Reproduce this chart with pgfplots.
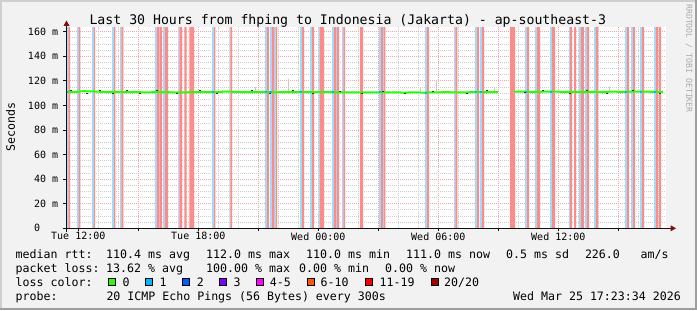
\documentclass[border=0pt]{standalone}
\usepackage{fontspec}
\setmainfont{DejaVu Sans Mono}
\setmonofont{DejaVu Sans Mono}
\usepackage{pgfplots}
\usepackage{pgfplotstable}
\pgfplotsset{compat=1.18}
\usetikzlibrary{arrows.meta}

\definecolor{bgc}{RGB}{242,242,242}
\definecolor{shadea}{RGB}{207,207,207}
\definecolor{shadeb}{RGB}{158,158,158}
\definecolor{mgridc}{RGB}{240,165,165}
\definecolor{gridc}{RGB}{205,205,205}
\definecolor{lossblue}{RGB}{160,220,245}
\definecolor{lossred}{RGB}{255,138,138}
\definecolor{medgreen}{RGB}{38,255,0}
\definecolor{lc1}{RGB}{0,184,255}
\definecolor{lc2}{RGB}{0,89,255}
\definecolor{lc3}{RGB}{126,0,255}
\definecolor{lc45}{RGB}{255,0,255}
\definecolor{lc610}{RGB}{255,85,0}
\definecolor{lc1119}{RGB}{255,0,0}
\definecolor{lc20}{RGB}{161,0,0}
\definecolor{arrowc}{RGB}{128,16,16}
\definecolor{axisc}{RGB}{16,16,16}
\definecolor{smoke}{RGB}{200,200,200}
\definecolor{darksmoke}{RGB}{45,45,45}
\definecolor{wmark}{RGB}{170,170,170}

\newcommand\tickfont{\fontsize{10bp}{12bp}\selectfont}
\newcommand\lgfont{\fontsize{11.6bp}{13bp}\selectfont}
\newcommand\titlefont{\fontsize{13.2bp}{15bp}\selectfont}

% loss bars: start (height 170) / end (height 0), hours since Tue 00:00
\pgfplotstableread{
x y
11.385 170
11.50 0
11.935 170
12.025 0
12.685 170
12.775 0
13.685 170
13.785 0
14.085 170
14.15 0
15.835 170
15.935 0
16.235 170
16.335 0
17.00 170
17.05 0
18.685 170
18.785 0
19.55 170
19.60 0
21.335 170
21.435 0
21.585 170
21.685 0
21.785 170
21.86 0
23.085 170
23.185 0
23.585 170
23.685 0
24.01 170
24.085 0
24.685 170
24.785 0
24.885 170
24.935 0
25.185 170
25.25 0
27.035 170
27.135 0
27.235 170
27.285 0
29.335 170
29.435 0
30.785 170
30.85 0
31.835 170
31.935 0
32.085 170
32.185 0
34.335 170
34.435 0
34.835 170
34.935 0
35.585 170
35.685 0
36.535 170
36.585 0
37.035 170
37.135 0
37.335 170
37.435 0
37.785 170
37.885 0
39.335 170
39.435 0
39.635 170
39.735 0
40.085 170
40.185 0
40.785 170
40.885 0
}\bluebars

\pgfplotstableread{
x y
11.50 170
11.585 0
12.025 170
12.10 0
12.775 170
12.835 0
13.785 170
13.85 0
14.15 170
14.25 0
15.935 170
16.035 0
16.06 170
16.185 0
16.335 170
16.485 0
17.05 170
17.185 0
17.30 170
17.42 0
17.55 170
17.785 0
18.785 170
18.85 0
19.60 170
19.685 0
21.435 170
21.535 0
21.685 170
21.785 0
21.86 170
21.935 0
23.185 170
23.285 0
23.685 170
23.785 0
24.085 170
24.285 0
24.785 170
24.885 0
24.935 170
25.035 0
25.25 170
25.335 0
26.085 170
26.235 0
27.135 170
27.235 0
27.285 170
27.35 0
29.435 170
29.535 0
30.85 170
30.95 0
31.935 170
32.035 0
32.185 170
32.285 0
33.585 170
33.835 0
34.435 170
34.535 0
34.935 170
35.085 0
35.685 170
35.835 0
36.585 170
36.685 0
36.785 170
36.885 0
37.135 170
37.285 0
37.435 170
37.535 0
37.885 170
37.985 0
39.435 170
39.535 0
39.735 170
39.835 0
40.185 170
40.285 0
40.885 170
40.985 0
41.035 170
41.135 0
}\redbars

% median rtt (ms)
\pgfplotstableread{
x y
11.435 111.2
11.9 111.0
12.2 111.6
12.6 111.5
13.0 111.2
13.4 110.9
13.8 111.0
14.3 110.8
14.8 111.0
15.3 110.6
15.8 110.8
16.3 110.9
16.8 110.6
17.3 110.7
17.8 110.8
18.3 111.0
18.8 110.7
19.3 111.3
19.8 111.1
20.3 110.8
20.8 110.9
21.3 111.0
21.8 110.7
22.3 110.8
22.8 110.9
23.3 111.0
23.8 110.8
24.3 110.9
24.8 110.7
25.3 110.6
25.8 110.6
26.3 110.6
26.8 110.7
27.3 110.6
27.8 110.6
28.3 110.5
28.8 110.6
29.3 110.5
29.8 110.6
30.3 110.8
30.8 110.7
31.3 110.6
31.8 110.9
32.3 110.8
32.8 110.8
32.985 110.8
nan nan
33.785 111.2
34.3 111.3
34.8 111.0
35.3 111.2
35.8 111.3
36.3 111.0
36.8 111.1
37.3 110.9
37.8 111.0
38.3 111.1
38.8 111.2
39.3 111.0
39.8 111.3
40.3 111.2
40.8 111.1
41.235 111.0
}\median

% median segments with 1 lost ping
\pgfplotstableread{
x y
11.44 111.2
11.50 111.2
nan nan
18.685 110.8
18.785 110.8
nan nan
21.335 110.9
21.435 110.9
nan nan
21.585 110.8
21.685 110.8
nan nan
23.085 111.0
23.185 111.0
nan nan
24.685 110.8
24.785 110.8
nan nan
27.035 110.6
27.135 110.6
nan nan
29.335 110.5
29.435 110.5
nan nan
31.835 110.9
31.935 110.9
nan nan
32.085 110.8
32.185 110.8
nan nan
34.335 111.3
34.435 111.3
nan nan
35.585 111.2
35.685 111.2
nan nan
39.335 111.0
39.435 111.0
nan nan
40.085 111.2
40.185 111.2
nan nan
40.785 111.1
40.885 111.1
}\lossone

% smoke spikes
\pgfplotstableread{
x y
20.835 111.5
20.835 115
nan nan
22.5 111.5
22.5 121.5
nan nan
29.085 111.5
29.085 115
nan nan
29.885 111.5
29.885 121
nan nan
32.785 111.5
32.785 115
nan nan
38.535 111.5
38.535 115
}\smokedata

% dark smoke specks at the median
\pgfplotstableread{
x y
11.57 112.0
11.67 112.0
nan nan
12.37 109.8
12.47 109.8
nan nan
13.035 112.2
13.135 112.2
nan nan
13.685 109.8
13.785 109.8
nan nan
14.37 111.8
14.47 111.8
nan nan
15.035 109.7
15.135 109.7
nan nan
15.87 111.8
15.97 111.8
nan nan
16.87 109.6
16.97 109.6
nan nan
18.035 111.9
18.135 111.9
nan nan
18.87 109.7
18.97 109.7
nan nan
20.62 111.8
20.72 111.8
nan nan
21.535 109.8
21.635 109.8
nan nan
22.70 111.8
22.80 111.8
nan nan
23.70 109.8
23.80 109.8
nan nan
25.035 111.6
25.135 111.6
nan nan
26.12 109.6
26.22 109.6
nan nan
27.20 111.6
27.30 111.6
nan nan
28.285 109.5
28.385 109.5
nan nan
29.70 111.6
29.80 111.6
nan nan
31.37 109.6
31.47 109.6
nan nan
32.37 111.8
32.47 111.8
nan nan
34.285 110.2
34.385 110.2
nan nan
35.20 112.2
35.30 112.2
nan nan
36.535 110.0
36.635 110.0
nan nan
37.37 112.0
37.47 112.0
nan nan
38.37 110.1
38.47 110.1
nan nan
39.70 112.2
39.80 112.2
nan nan
41.035 110.0
41.135 110.0
}\darkspecks

\begin{document}
\begin{tikzpicture}
% background and shaded frame
\begin{scope}[shift={(0,310bp)}, x=1bp, y=-1bp]
\fill[bgc] (0,0) rectangle (697,310);
\fill[shadea] (0,0) rectangle (697,2);
\fill[shadea] (0,0) rectangle (2,310);
\fill[shadeb] (0,308) rectangle (697,310);
\fill[shadeb] (695,0) rectangle (697,310);
\end{scope}

\begin{axis}[
  at={(66bp,81.7bp)}, anchor=south west,
  scale only axis, width=600bp, height=201bp,
  xmin=11.385, xmax=41.385, ymin=0, ymax=163.6,
  axis line style={draw=none},
  axis background/.style={fill=white},
  xtick={12,18,24,30,36},
  xticklabels={Tue 12:00,Tue 18:00,Wed 00:00,Wed 06:00,Wed 12:00},
  extra x ticks={15,21,27,33,39},
  extra x tick labels={},
  extra x tick style={grid=major},
  minor xtick={13,14,16,17,19,20,22,23,25,26,28,29,31,32,34,35,37,38,40,41},
  ytick={0,20,40,60,80,100,120,140,160},
  yticklabels={0\hphantom{000},20 m,40 m,60 m,80 m,100 m,120 m,140 m,160 m},
  minor ytick={5,10,15,25,30,35,45,50,55,65,70,75,85,90,95,105,110,115,125,130,135,145,150,155},
  grid=both,
  major grid style={color=mgridc, line width=1bp, dash pattern=on 1bp off 1bp},
  minor grid style={color=gridc, line width=1bp, dash pattern=on 1bp off 1bp},
  major tick length=0pt, minor tick length=0pt,
  tick style={draw=none},
  xticklabel style={font=\tickfont, inner sep=0pt, yshift=-4bp},
  yticklabel style={font=\tickfont, inner sep=0pt, xshift=-7.7bp},
  unbounded coords=jump,
]
\addplot[const plot, fill=lossblue, draw=none] table {\bluebars} \closedcycle;
\addplot[const plot, fill=lossred, draw=none] table {\redbars} \closedcycle;
\addplot[smoke, line width=1bp] table {\smokedata};
\addplot[medgreen, line width=2bp] table {\median};
\addplot[lc1, line width=2bp] table {\lossone};
\addplot[darksmoke, line width=1bp] table {\darkspecks};
\end{axis}

\begin{scope}[shift={(0,310bp)}, x=1bp, y=-1bp]
% axes
\draw[axisc, line width=1bp] (62.5,228.3) -- (671,228.3);
\draw[axisc, line width=1bp] (66.5,232) -- (66.5,25);
\fill[arrowc] (66.5,20.5) -- (63.5,25.8) -- (69.5,25.8) -- cycle;
\fill[arrowc] (676,228.3) -- (670.7,225.3) -- (670.7,231.3) -- cycle;
\foreach \xx in {78.3,138.3,198.3,258.3,318.3,378.3,438.3,498.3,558.3,618.3}
  \draw[axisc, line width=1bp] (\xx,228.3) -- (\xx,231.3);
\foreach \yy in {31.7,56.3,80.9,105.4,130.0,154.6,179.2,203.7}
  \draw[axisc, line width=1bp] (63,\yy) -- (66.5,\yy);

% title, axis label, watermark
\node[anchor=base, inner sep=0pt, font=\titlefont] at (347.8,24)
  {Last 30 Hours from fhping to Indonesia (Jakarta) - ap-southeast-3};
\node[rotate=90, inner sep=0pt, font=\lgfont] at (10.5,127.3) {Seconds};
\node[rotate=-90, anchor=west, inner sep=0pt, text=wmark,
  font=\fontsize{8.2bp}{9bp}\selectfont] at (689,4) {RRDTOOL / TOBI OETIKER};

% legend
\begin{scope}[every node/.style={anchor=base west, inner sep=0pt, font=\lgfont}]
\node at (15.5,258.3) {median rtt:};
\node at (106,258.3) {110.4 ms avg};
\node at (206,258.3) {112.0 ms max};
\node at (306,258.3) {110.0 ms min};
\node at (406,258.3) {111.0 ms now};
\node at (506,258.3) {0.5 ms sd};
\node at (584.8,258.3) {226.0};
\node at (640.5,258.3) {am/s};

\node at (15.5,272.3) {packet loss:};
\node at (106,272.3) {13.62 \% avg};
\node at (206,272.3) {100.00 \% max};
\node at (299,272.3) {0.00 \% min};
\node at (385,272.3) {0.00 \% now};

\node at (15.5,286) {loss color:};
\node at (122.3,286) {0};
\node at (159.5,286) {1};
\node at (196.7,286) {2};
\node at (233.3,286) {3};
\node at (269.7,286) {4-5};
\node at (320.5,286) {6-10};
\node at (379.5,286) {11-19};
\node at (444,286) {20/20};

\node at (15.5,300) {probe:};
\node at (106.3,300) {20 ICMP Echo Pings (56 Bytes) every 300s};
\node[anchor=base east] at (681,300) {Wed Mar 25 17:23:34 2026};
\end{scope}
\foreach \bx/\bc in {108.7/medgreen,145.7/lc1,182.7/lc2,219.3/lc3,256.7/lc45,307/lc610,365.7/lc1119,431/lc20}
  \filldraw[fill=\bc, draw=black, line width=1bp] (\bx,278.2) rectangle ++(7,7);
\end{scope}
\end{tikzpicture}
\end{document}
